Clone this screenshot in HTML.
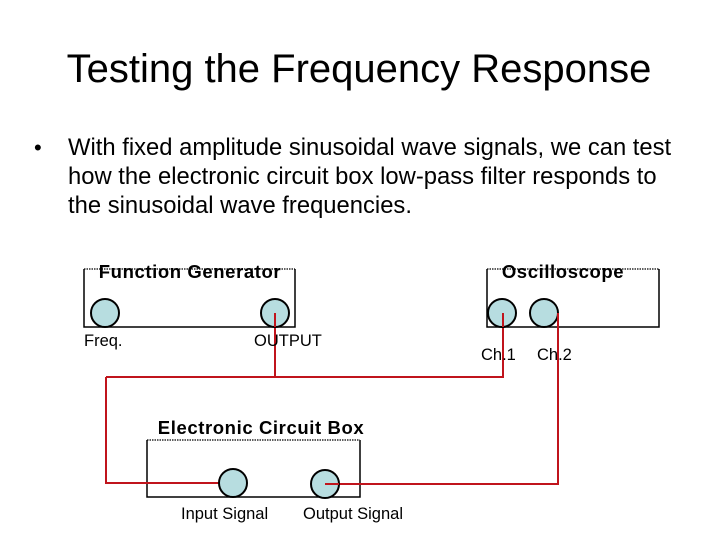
<!DOCTYPE html>
<html><head><style>
body{margin:0;width:720px;height:540px;background:#fff;overflow:hidden;font-family:"Liberation Sans",sans-serif;}
</style></head><body>
<svg width="720" height="540" xmlns="http://www.w3.org/2000/svg" font-family="Liberation Sans, sans-serif">
<text x="359" y="82" font-size="40" text-anchor="middle">Testing the Frequency Response</text>
<text x="34" y="155" font-size="22">•</text>
<text x="68" y="155" font-size="23.8">With fixed amplitude sinusoidal wave signals, we can test</text>
<text x="68" y="184" font-size="23.8">how the electronic circuit box low-pass filter responds to</text>
<text x="68" y="213" font-size="23.8">the sinusoidal wave frequencies.</text>
<g fill="none" stroke="#000" stroke-width="1.5">
<path d="M84 269 V327 H295 V269" />
<path d="M487 269 V327 H659 V269" />
<path d="M147 440 V497 H360 V440" />
</g>
<g fill="none" stroke="#000" stroke-width="1.2" stroke-dasharray="1.5 1">
<path d="M84 269 H295 M487 269 H659 M147 440 H360" />
</g>
<g font-weight="bold" font-size="18.5" text-anchor="middle" letter-spacing="0.6">
<text x="190" y="278">Function Generator</text>
<text x="563" y="278">Oscilloscope</text>
<text x="261" y="434">Electronic Circuit  Box</text>
</g>
<g fill="none" stroke="#c0141c" stroke-width="2">
<path d="M275 313 V377 M106 377 H503 V313" />
<path d="M106 377 V483 H233" />
<path d="M325 484 H558 V313" />
</g>
<g fill="#b7dde0" stroke="#000" stroke-width="2">
<circle cx="105" cy="313" r="14"/>
<circle cx="275" cy="313" r="14"/>
<circle cx="502" cy="313" r="14"/>
<circle cx="544" cy="313" r="14"/>
<circle cx="233" cy="483" r="14"/>
<circle cx="325" cy="484" r="14"/>
</g>
<g fill="none" stroke="#c0141c" stroke-width="2">
<path d="M275 313 V327 M503 313 V327 M558 313 V327 M325 484 H339" />
</g>
<g font-size="16.5">
<text x="84" y="346">Freq.</text>
<text x="254" y="346">OUTPUT</text>
<text x="481" y="360">Ch.1</text>
<text x="537" y="360">Ch.2</text>
<text x="181" y="519">Input Signal</text>
<text x="303" y="519">Output Signal</text>
</g>
</svg>
</body></html>
